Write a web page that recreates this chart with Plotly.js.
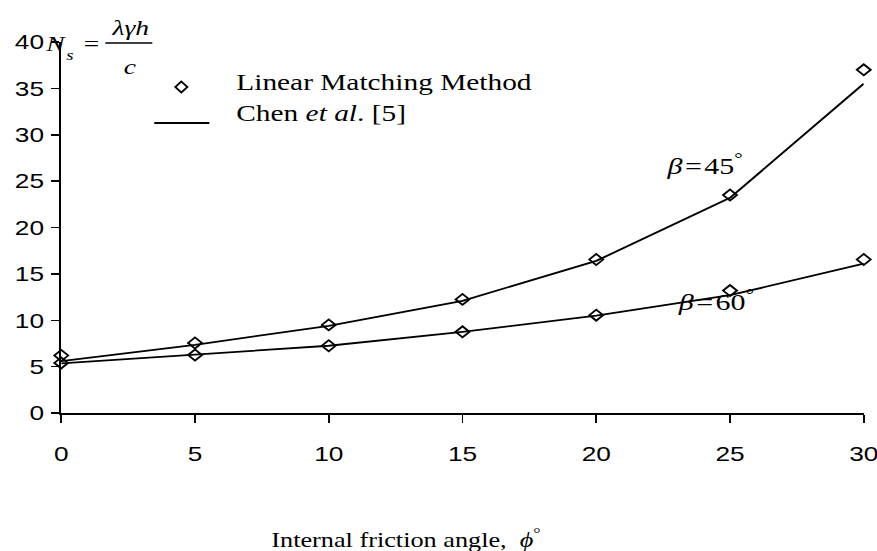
<!DOCTYPE html>
<html>
<head>
<meta charset="utf-8">
<script src="https://cdn.plot.ly/plotly-3.0.1.min.js"></script>
<style>
html,body{margin:0;padding:0;background:#fff;overflow:hidden;}
#wrap{width:877px;height:551px;overflow:hidden;}
#chart{height:551px;transform-origin:0 0;}
</style>
</head>
<body>
<div id="wrap"><div id="chart"></div></div>
<script>
// Data
const angles = [0, 5, 10, 15, 20, 25, 30];
const lmm45 = [6.2, 7.55, 9.5, 12.25, 16.55, 23.5, 37.0];
const chen45 = [5.6, 7.35, 9.4, 12.1, 16.4, 23.2, 35.5];
const lmm60 = [5.4, 6.25, 7.25, 8.75, 10.55, 13.2, 16.55];
const chen60 = [5.35, 6.3, 7.25, 8.75, 10.5, 12.7, 16.1];
const xTicks = [0, 5, 10, 15, 20, 25, 30];
const yTicks = [0, 5, 10, 15, 20, 25, 30, 35, 40];
const legendLabels = ['Linear Matching Method', 'Chen <i>et al</i>. [5]'];
const curveLabels = ['<i>β</i>\u200A=\u200A45<sup>°</sup>', '<i>β</i>\u200A=\u200A60<sup>°</sup>'];
const xTitle = 'Internal friction angle,  <i>ϕ</i><sup>°</sup>';

// The reference is drawn slightly stretched horizontally; reproduce with scaleX
const S = 1.25;
const W = 877 / S, H = 551;
const M = {l: 61 / S, r: 14 / S, t: 42, b: 138};
const pw = W - M.l - M.r, ph = H - M.t - M.b;
// positions given in reference (stretched) pixels
const px = x => (x / S - M.l) / pw;
const py = y => (H - M.b - y) / ph;

document.getElementById('chart').style.width = W + 'px';
document.getElementById('chart').style.transform = 'scaleX(' + S + ')';

const serif = 'Liberation Serif, Times New Roman, serif';
const sans = 'Liberation Sans, Arial, sans-serif';

const lineStyle = {color: '#000', width: 1.8};
const markerStyle = {symbol: 'diamond-open', size: 8.5, color: '#000', line: {color: '#000', width: 1.7}};

const traces = [
  {x: angles, y: chen45, mode: 'lines', line: lineStyle, showlegend: false, cliponaxis: false},
  {x: angles, y: chen60, mode: 'lines', line: lineStyle, showlegend: false, cliponaxis: false},
  {x: angles, y: lmm45, mode: 'markers', marker: markerStyle, showlegend: false, cliponaxis: false},
  {x: angles, y: lmm60, mode: 'markers', marker: markerStyle, showlegend: false, cliponaxis: false}
];

function ann(text, x, y, size, opts) {
  return Object.assign({text: text, xref: 'paper', yref: 'paper', x: px(x), y: py(y),
    showarrow: false, xanchor: 'center', yanchor: 'middle',
    font: {family: serif, size: size, color: '#000'}}, opts || {});
}

// diamond for legend (reference pixels: half-width 6, half-height 5.5)
const dx = 6 / S / pw, dy = 5.5 / ph;
const cx = px(181), cy = py(87);
const diamondPath = `M ${cx},${cy + dy} L ${cx + dx},${cy} L ${cx},${cy - dy} L ${cx - dx},${cy} Z`;

const layout = {
  width: W, height: H,
  margin: M,
  paper_bgcolor: '#fff', plot_bgcolor: '#fff',
  showlegend: false,
  xaxis: {
    range: [0, 30], tickvals: xTicks, ticktext: xTicks.map(String),
    showgrid: false, zeroline: false, showline: true, linecolor: '#000', linewidth: 2,
    ticks: 'outside', ticklen: 8, tickwidth: 1.3, tickcolor: '#000',
    ticklabelstandoff: 13, ticklabeloverflow: 'allow',
    tickfont: {family: sans, size: 21, color: '#000'}
  },
  yaxis: {
    range: [0, 40], tickvals: yTicks, ticktext: yTicks.map(String),
    showgrid: false, zeroline: false, showline: true, linecolor: '#000', linewidth: 1.6,
    ticks: 'outside', ticklen: 7, tickwidth: 1.5, tickcolor: '#000',
    ticklabelstandoff: 1, ticklabeloverflow: 'allow',
    tickfont: {family: sans, size: 21, color: '#000'}
  },
  shapes: [
    {type: 'path', xref: 'paper', yref: 'paper', path: diamondPath, line: {color: '#000', width: 1.7}},
    {type: 'line', xref: 'paper', yref: 'paper', x0: px(154), x1: px(209), y0: py(123), y1: py(123), line: {color: '#000', width: 1.8}},
    {type: 'line', xref: 'paper', yref: 'paper', x0: px(105), x1: px(152), y0: py(43), y1: py(43), line: {color: '#000', width: 1.3}}
  ],
  annotations: [
    ann(legendLabels[0], 233, 82, 23.5, {xanchor: 'left'}),
    ann(legendLabels[1], 233, 113, 23.5, {xanchor: 'left'}),
    ann(curveLabels[0], 704, 164, 24),
    ann(curveLabels[1], 715, 300, 24),
    ann(xTitle, 268, 538, 21, {xanchor: 'left'}),
    ann('<i>N</i>', 55, 43, 22),
    ann('<i>s</i>', 70, 55, 15),
    ann('=', 91, 44, 22),
    ann('<i>λγh</i>', 130, 27, 22),
    ann('<i>c</i>', 130, 66, 22)
  ]
};

Plotly.newPlot('chart', traces, layout, {staticPlot: true, displayModeBar: false});
</script>
</body>
</html>
